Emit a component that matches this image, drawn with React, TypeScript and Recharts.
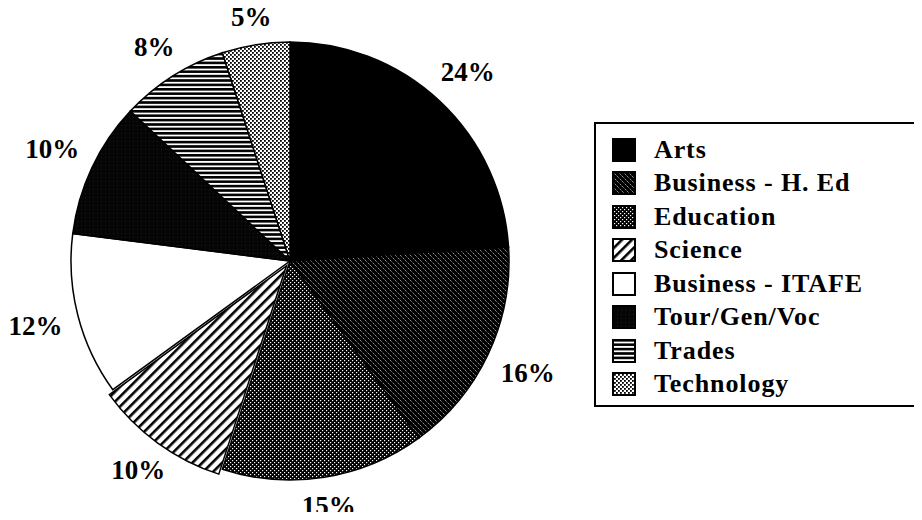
import { PieChart, Pie, Cell, Sector } from 'recharts';

const categories = [
  'Arts',
  'Business - H. Ed',
  'Education',
  'Science',
  'Business - ITAFE',
  'Tour/Gen/Voc',
  'Trades',
  'Technology',
];
const shares = [24, 16, 15, 10, 12, 10, 8, 5];
// only the Science slice is pulled out a little in the original
const exploded = [0, 0, 0, 1, 0, 0, 0, 0];

const fills = [
  '#000',
  'url(#p-bized)',
  'url(#p-edu)',
  'url(#p-sci)',
  '#fff',
  'url(#p-tour)',
  'url(#p-trades)',
  'url(#p-tech)',
];

const data = categories.map((name, i) => ({
  name,
  value: shares[i],
  explode: exploded[i],
}));

const RAD = Math.PI / 180;
const FONT = '"Liberation Serif", "Times New Roman", serif';
const LABEL_SIZE = 27;

function Patterns() {
  return (
    <svg width={0} height={0} style={{ position: 'absolute' }}>
      <defs>
        <pattern id="p-bized" width={5} height={5} patternUnits="userSpaceOnUse">
          <rect width={5} height={5} fill="#000" />
          <path d="M0,0 L5,5" stroke="#fff" strokeWidth={0.8} strokeDasharray="1 1.2" />
        </pattern>
        <pattern id="p-edu" width={4} height={4} patternUnits="userSpaceOnUse">
          <rect width={4} height={4} fill="#000" />
          <rect x={0} y={0} width={1.2} height={1.2} fill="#fff" />
          <rect x={2} y={2} width={1.2} height={1.2} fill="#fff" />
        </pattern>
        <pattern
          id="p-sci"
          width={7}
          height={7}
          patternUnits="userSpaceOnUse"
          patternTransform="rotate(45)"
        >
          <rect width={7} height={7} fill="#fff" />
          <rect x={0} y={0} width={2.6} height={7} fill="#000" />
        </pattern>
        <pattern id="p-tour" width={4} height={4} patternUnits="userSpaceOnUse">
          <rect width={4} height={4} fill="#050505" />
          <rect x={1} y={1} width={0.6} height={0.6} fill="#444" />
        </pattern>
        <pattern id="p-trades" width={4} height={4.4} patternUnits="userSpaceOnUse">
          <rect width={4} height={4.4} fill="#fff" />
          <rect x={0} y={0} width={4} height={2.6} fill="#000" />
        </pattern>
        <pattern id="p-tech" width={4} height={4} patternUnits="userSpaceOnUse">
          <rect width={4} height={4} fill="#fff" />
          <rect x={0} y={0} width={1.8} height={1.8} fill="#000" />
          <rect x={2} y={2} width={1.8} height={1.8} fill="#000" />
        </pattern>
      </defs>
    </svg>
  );
}

// label box sits just outside the rim, pushed out by its own half-extent
const renderLabel = (props: any) => {
  const { cx, cy, midAngle, outerRadius, value } = props;
  const text = `${value}%`;
  const w = (text.length - 1) * 0.5 * LABEL_SIZE + LABEL_SIZE;
  const h = 20;
  const c = Math.cos(-midAngle * RAD);
  const s = Math.sin(-midAngle * RAD);
  const r = outerRadius + 15 + Math.abs(c) * (w / 2) + Math.abs(s) * (h / 2);
  return (
    <text
      x={cx + r * c}
      y={cy + r * s}
      textAnchor="middle"
      dominantBaseline="central"
      fontFamily={FONT}
      fontWeight="bold"
      fontSize={LABEL_SIZE}
      fill="#000"
    >
      {text}
    </text>
  );
};

const renderSlice = (props: any) => {
  const off = props.payload?.explode ? 6 : 0;
  const dx = off * Math.cos(-props.midAngle * RAD);
  const dy = off * Math.sin(-props.midAngle * RAD);
  return <Sector {...props} cx={props.cx + dx} cy={props.cy + dy} />;
};

function LegendBox() {
  return (
    <div
      style={{
        position: 'absolute',
        left: 594,
        top: 122,
        width: 330,
        height: 285,
        border: '2px solid #000',
        boxSizing: 'border-box',
        paddingTop: 9,
      }}
    >
      {data.map((d, i) => (
        <div
          key={d.name}
          style={{
            display: 'flex',
            alignItems: 'center',
            height: 33.5,
          }}
        >
          <svg width={24} height={24} style={{ marginLeft: 16, marginRight: 18 }}>
            <rect x={1} y={1} width={22} height={22} fill={fills[i]} stroke="#000" strokeWidth={2} />
          </svg>
          <span
            style={{
              fontFamily: FONT,
              fontWeight: 'bold',
              fontSize: 26,
              letterSpacing: 0.9,
              color: '#000',
              lineHeight: 1,
            }}
          >
            {d.name}
          </span>
        </div>
      ))}
    </div>
  );
}

export default function App() {
  return (
    <div
      style={{
        position: 'relative',
        width: 922,
        height: 520,
        margin: -8,
        background: '#fff',
        overflow: 'hidden',
      }}
    >
      <Patterns />
      <PieChart width={922} height={520} margin={{ top: 0, right: 0, bottom: 0, left: 0 }}>
        <Pie
          data={data}
          dataKey="value"
          nameKey="name"
          cx={290}
          cy={261}
          outerRadius={219}
          startAngle={90}
          endAngle={-270}
          stroke="#000"
          strokeWidth={1.5}
          label={renderLabel}
          labelLine={false}
          shape={renderSlice}
          isAnimationActive={false}
        >
          {data.map((d, i) => (
            <Cell key={d.name} fill={fills[i]} />
          ))}
        </Pie>
      </PieChart>
      <LegendBox />
    </div>
  );
}
